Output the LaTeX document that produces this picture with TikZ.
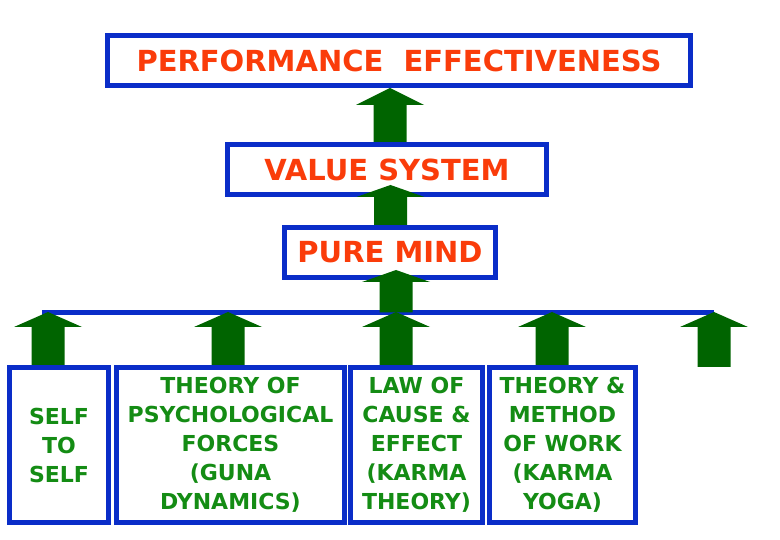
\documentclass[tikz,border=0pt]{standalone}
\usepackage{fontspec}
\setmainfont{DejaVu Sans}
\usepackage{tikz}
\usetikzlibrary{positioning,calc}
\usepackage{xcolor}
\definecolor{boxblue}{RGB}{10,45,200}
\definecolor{titlered}{RGB}{250,60,10}
\definecolor{leafgreen}{RGB}{20,140,20}
\definecolor{arrowgreen}{RGB}{0,100,0}
\tikzset{
  level/.style ={rectangle, draw=boxblue, line width=5pt, fill=white,
                 minimum height=50pt, inner sep=0pt, text=titlered,
                 font=\bfseries\fontsize{29}{32}\selectfont},
  leaf/.style  ={rectangle, draw=boxblue, line width=5pt, fill=white,
                 minimum height=155pt, inner sep=0pt, align=center,
                 text=leafgreen, font=\bfseries\fontsize{22}{29}\selectfont},
  bar/.style   ={draw=boxblue, line width=5pt},
}
% block arrow: foot point, tip point, head length
\newcommand{\blockup}[3][15]{%
  \fill[arrowgreen] let \p1=(#2), \p2=(#3) in
    (\x2-16.5pt,\y1) -- (\x2-16.5pt,\y2-#1pt) -- (\x2-34pt,\y2-#1pt) -- (\x2,\y2)
    -- (\x2+34pt,\y2-#1pt) -- (\x2+16.5pt,\y2-#1pt) -- (\x2+16.5pt,\y1) -- cycle;}

\begin{document}
\begin{tikzpicture}[x=1pt, y=-1pt]
  \useasboundingbox (0,0) rectangle (780,540);
  % upper chain
  \node[level, minimum width=583pt] (perf)  at (399,60.5)  {PERFORMANCE~~EFFECTIVENESS};
  \node[level, minimum width=319pt] (value) at (387,169.5) {VALUE SYSTEM};
  \node[level, minimum width=211pt] (pure)  at (390,252.5) {PURE MIND};
  % lower row
  \node[leaf, minimum width=99pt]  (self)  at (59,445) {SELF\\TO\\SELF};
  \node[leaf, minimum width=228pt, right=3pt of self] (psych) {THEORY OF\\PSYCHOLOGICAL\\FORCES\\(GUNA\\DYNAMICS)};
  \node[leaf, minimum width=132pt, right=1pt of psych] (law) {LAW OF\\CAUSE \&\\EFFECT\\(KARMA\\THEORY)};
  \node[leaf, minimum width=146pt, right=2pt of law]   (work) {THEORY \&\\METHOD\\OF WORK\\(KARMA\\YOGA)};
  % bar and arrow points
  \coordinate (barL) at (42,312.5);
  \coordinate (barR) at (714,312.5);
  \draw[bar] (barL) -- (barR);
  \coordinate (a1) at (390,0);
  \coordinate (a2) at (390.5,185);
  \coordinate (a3) at (396,270);
  \coordinate (t1) at (48,312);
  \coordinate (t2) at (228,312);
  \coordinate (t3) at (396,312);
  \coordinate (t4) at (552,312);
  \coordinate (t5) at (714,312);
  \coordinate (foot5) at (714,367);
  % arrows
  \blockup[17]{a1 |- value.north}{a1 |- perf.south}
  \blockup[12]{a2 |- pure.north}{a2}
  \blockup[12]{a3 |- barL}{a3}
  \blockup{t1 |- self.north}{t1}
  \blockup{t2 |- psych.north}{t2}
  \blockup{t3 |- law.north}{t3}
  \blockup{t4 |- work.north}{t4}
  \blockup{foot5}{t5}
\end{tikzpicture}
\end{document}
